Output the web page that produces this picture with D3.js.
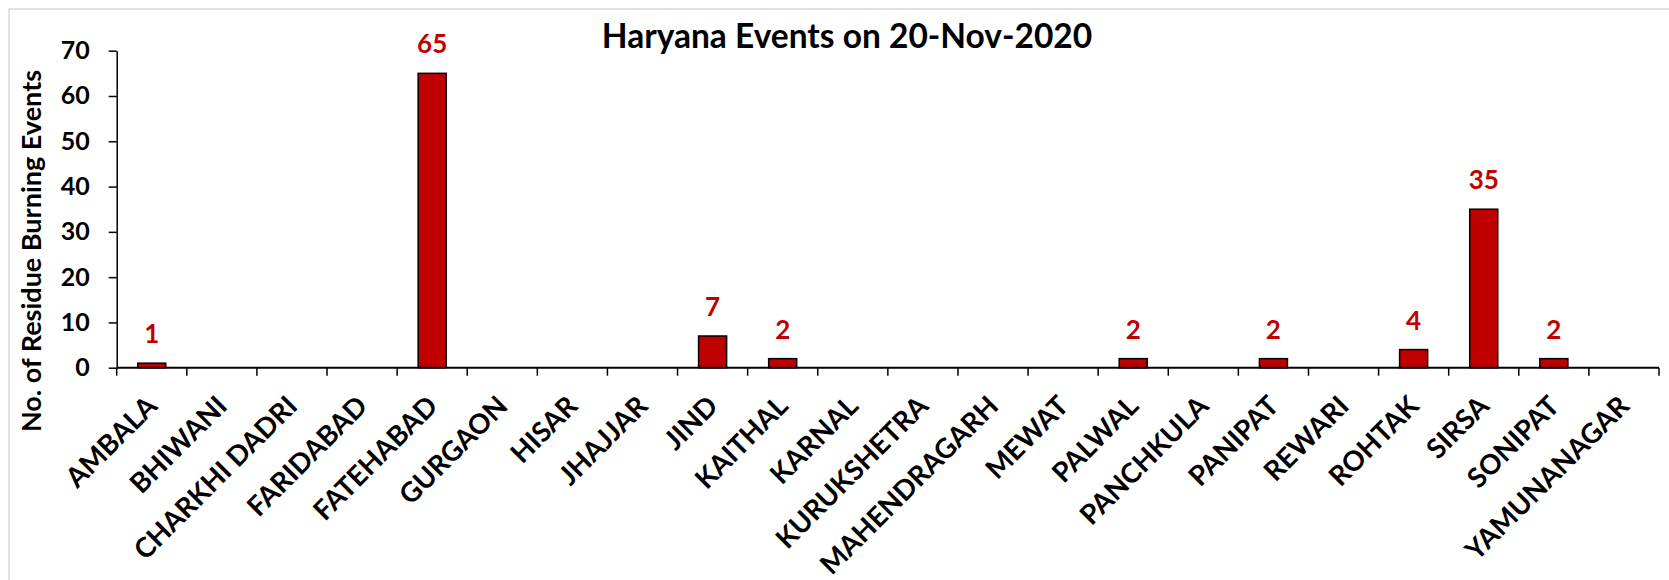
<!DOCTYPE html>
<html lang="en">
<head>
    <meta charset="UTF-8">
    <title>Haryana Events</title>
    <script src="https://d3js.org/d3.v7.min.js"></script>
    <style>
        body { margin: 0; background: #fff; }
        text { font-family: Lato, "Open Sans", sans-serif; font-weight: bold; }
    </style>
</head>
<body>
    <div id="my_dataviz"></div>
    <script>
        // data
        var districts = ["AMBALA", "BHIWANI", "CHARKHI DADRI", "FARIDABAD", "FATEHABAD", "GURGAON",
            "HISAR", "JHAJJAR", "JIND", "KAITHAL", "KARNAL", "KURUKSHETRA", "MAHENDRAGARH", "MEWAT",
            "PALWAL", "PANCHKULA", "PANIPAT", "REWARI", "ROHTAK", "SIRSA", "SONIPAT", "YAMUNANAGAR"];
        var events = [1, 0, 0, 0, 65, 0, 0, 0, 7, 2, 0, 0, 0, 0, 2, 0, 2, 0, 4, 35, 2, 0];
        var yTicks = [0, 10, 20, 30, 40, 50, 60, 70];

        var W = 1669, H = 580;
        var margin = {top: 50.7, left: 116.7},
            width = 1659 - margin.left,
            height = 367.7 - margin.top;

        var svg = d3.select("#my_dataviz")
          .append("svg")
            .attr("width", W)
            .attr("height", H);

        // chart frame
        svg.append("rect")
            .attr("x", 9).attr("y", 9)
            .attr("width", W).attr("height", H)
            .attr("fill", "none")
            .attr("stroke", "#d9d9d9")
            .attr("stroke-width", 1.5);

        var g = svg.append("g")
            .attr("transform", "translate(" + margin.left + "," + margin.top + ")");

        var x = d3.scaleBand()
            .domain(districts)
            .range([0, width])
            .paddingInner(0.6)
            .paddingOuter(0.3);

        var y = d3.scaleLinear()
            .domain([0, 70])
            .range([height, 0]);

        // Y axis
        var yAxis = g.append("g")
            .call(d3.axisLeft(y).tickValues(yTicks).tickSize(8).tickPadding(19).tickSizeOuter(0));
        yAxis.select(".domain").attr("stroke", "#000").attr("stroke-width", 1.5);
        yAxis.selectAll(".tick line").attr("stroke", "#000").attr("stroke-width", 1.5);
        yAxis.selectAll(".tick text")
            .attr("fill", "#000")
            .style("font-size", "25px")
            .style("font-family", "Lato, sans-serif")
            .style("font-weight", "bold");

        // bars
        g.append("g")
            .selectAll("rect")
            .data(districts)
            .enter()
            .append("rect")
              .attr("x", function(d) { return x(d); })
              .attr("width", x.bandwidth())
              .attr("y", function(d, i) { return y(events[i]); })
              .attr("height", function(d, i) { return height - y(events[i]); })
              .attr("fill", "#C00000")
              .attr("stroke", "#000")
              .attr("stroke-width", 1.5);

        // X axis line and ticks between categories
        var step = x.step();
        var bounds = districts.map(function(d) { return x(d) - step * x.paddingInner() / 2; });
        bounds.push(width);
        g.append("line")
            .attr("x1", 0).attr("x2", width)
            .attr("y1", height).attr("y2", height)
            .attr("stroke", "#000").attr("stroke-width", 2);
        g.append("g")
            .selectAll("line")
            .data(bounds)
            .enter()
            .append("line")
              .attr("x1", function(d) { return d; })
              .attr("x2", function(d) { return d; })
              .attr("y1", height).attr("y2", height + 8)
              .attr("stroke", "#000").attr("stroke-width", 1.5);

        // category labels
        g.append("g")
            .selectAll("text")
            .data(districts)
            .enter()
            .append("text")
              .attr("transform", function(d) {
                  return "translate(" + (x(d) + x.bandwidth() / 2 + 7) + "," + (height + 40) + ") rotate(-45)";
              })
              .style("text-anchor", "end")
              .style("font-size", "27.5px")
              .attr("fill", "#000")
              .text(function(d) { return d; });

        // value labels
        g.append("g")
            .selectAll("text")
            .data(districts.filter(function(d, i) { return events[i] > 0; }))
            .enter()
            .append("text")
              .attr("x", function(d) { return x(d) + x.bandwidth() / 2; })
              .attr("y", function(d) { return y(events[districts.indexOf(d)]) - 20; })
              .style("text-anchor", "middle")
              .style("font-size", "26px")
              .attr("fill", "#C00000")
              .text(function(d) { return events[districts.indexOf(d)]; });

        // title
        svg.append("text")
            .attr("x", 847)
            .attr("y", 48)
            .style("text-anchor", "middle")
            .style("font-size", "33.5px")
            .attr("fill", "#000")
            .text("Haryana Events on 20-Nov-2020");

        // Y axis title
        svg.append("text")
            .attr("transform", "translate(41,251) rotate(-90)")
            .style("text-anchor", "middle")
            .style("font-size", "27px")
            .attr("fill", "#000")
            .text("No. of Residue Burning Events");
    </script>
</body>
</html>
